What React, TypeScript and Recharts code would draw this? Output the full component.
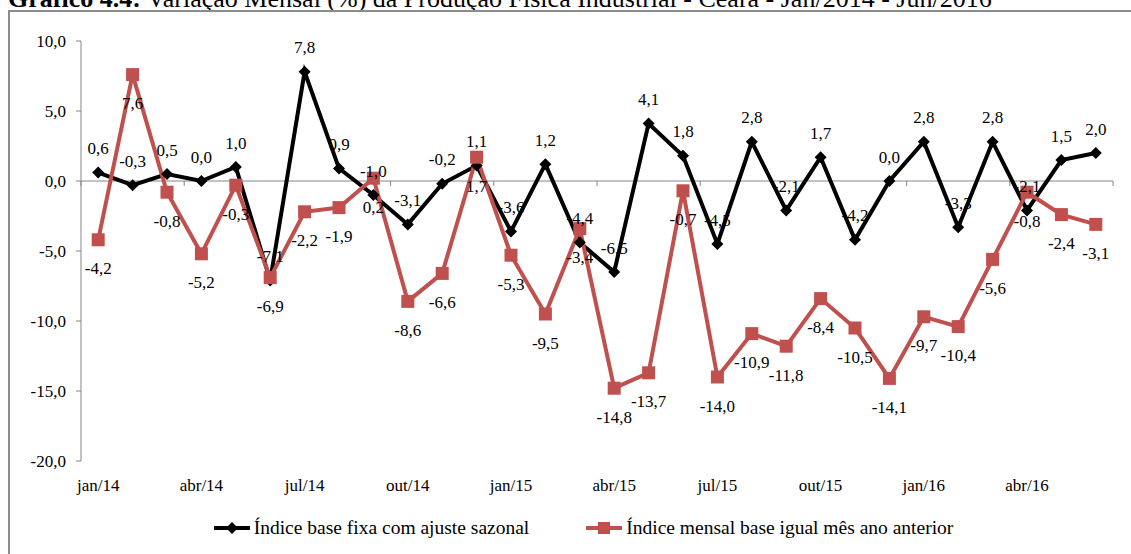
import React from "react";
import {
  LineChart,
  Line,
  XAxis,
  YAxis,
  ReferenceLine,
  Legend,
  LabelList,
} from "recharts";

const meses = [
  "jan/14", "fev/14", "mar/14", "abr/14", "mai/14", "jun/14",
  "jul/14", "ago/14", "set/14", "out/14", "nov/14", "dez/14",
  "jan/15", "fev/15", "mar/15", "abr/15", "mai/15", "jun/15",
  "jul/15", "ago/15", "set/15", "out/15", "nov/15", "dez/15",
  "jan/16", "fev/16", "mar/16", "abr/16", "mai/16", "jun/16",
];

// Índice base fixa com ajuste sazonal (%)
const ajusteSazonal = [
  0.6, -0.3, 0.5, 0.0, 1.0, -7.1, 7.8, 0.9, -1.0, -3.1, -0.2, 1.1,
  -3.6, 1.2, -4.4, -6.5, 4.1, 1.8, -4.5, 2.8, -2.1, 1.7, -4.2, 0.0,
  2.8, -3.3, 2.8, -2.1, 1.5, 2.0,
];

// Índice mensal base igual mês ano anterior (%)
const mesAnoAnterior = [
  -4.2, 7.6, -0.8, -5.2, -0.3, -6.9, -2.2, -1.9, 0.2, -8.6, -6.6, 1.7,
  -5.3, -9.5, -3.4, -14.8, -13.7, -0.7, -14.0, -10.9, -11.8, -8.4, -10.5, -14.1,
  -9.7, -10.4, -5.6, -0.8, -2.4, -3.1,
];

const yTicks = [-20, -15, -10, -5, 0, 5, 10];

const serieFixa = "Índice base fixa com ajuste sazonal";
const serieMensal = "Índice mensal base igual mês ano anterior";

const data = meses.map((mes, i) => ({
  mes,
  fixa: ajusteSazonal[i],
  mensal: mesAnoAnterior[i],
}));

const FONT = "'Liberation Serif', 'Times New Roman', serif";
const AXIS = "#868686";
const RED = "#C0504D";

const fmt = (v: number) => v.toFixed(1).replace(".", ",");

const makeLabel =
  (dy: number) =>
  ({ x, y, value }: any) => (
    <text
      x={x}
      y={y + dy}
      textAnchor="middle"
      dominantBaseline="central"
      fontFamily={FONT}
      fontSize={17}
      fill="#000"
    >
      {fmt(Number(value))}
    </text>
  );

// zero line with small tick marks every three months
const ZeroAxis = (props: any) => {
  const { x1, x2, y1 } = props;
  const groups = meses.length / 3;
  const step = (x2 - x1) / groups;
  const marks = [];
  for (let k = 0; k <= groups; k++) {
    const x = x1 + k * step;
    marks.push(<line key={k} x1={x} x2={x} y1={y1} y2={y1 + 5} stroke={AXIS} />);
  }
  return (
    <g>
      <line x1={x1} x2={x2} y1={y1} y2={y1} stroke={AXIS} strokeWidth={1} />
      {marks}
    </g>
  );
};

const Diamond = ({ cx, cy }: any) =>
  cx == null ? null : (
    <path
      d={`M${cx},${cy - 6} L${cx + 6},${cy} L${cx},${cy + 6} L${cx - 6},${cy} Z`}
      fill="#000"
    />
  );

const Square = ({ cx, cy }: any) =>
  cx == null ? null : (
    <rect x={cx - 6.5} y={cy - 6.5} width={13} height={13} fill={RED} />
  );

const LegendBox = () => (
  <div
    style={{
      display: "flex",
      justifyContent: "center",
      alignItems: "center",
      height: 30,
      paddingLeft: 34,
      fontFamily: FONT,
      fontSize: 19.5,
      color: "#000",
    }}
  >
    <svg width={40} height={14}>
      <line x1={2} x2={38} y1={7} y2={7} stroke="#000" strokeWidth={4} />
      <path d="M20,1 L26,7 L20,13 L14,7 Z" fill="#000" />
    </svg>
    <span style={{ marginLeft: 2, marginRight: 55 }}>{serieFixa}</span>
    <svg width={40} height={14}>
      <line x1={2} x2={38} y1={7} y2={7} stroke={RED} strokeWidth={4} />
      <rect x={14} y={1} width={12} height={12} fill={RED} />
    </svg>
    <span style={{ marginLeft: 2 }}>{serieMensal}</span>
  </div>
);

export default function App() {
  return (
    <div
      style={{
        position: "absolute",
        left: 0,
        top: 0,
        width: 1131,
        height: 554,
        overflow: "hidden",
        background: "#fff",
      }}
    >
      <svg
        width={1131}
        height={20}
        style={{ position: "absolute", left: 0, top: 0 }}
      >
        <text x={8} y={7} fontFamily={FONT} fontSize={26} fill="#000">
          <tspan fontWeight="bold">Gráfico 4.4:</tspan>
          <tspan> Variação Mensal (%) da Produção Física Industrial - Ceará - Jan/2014 - Jun/2016</tspan>
        </text>
      </svg>
      <div
        style={{
          position: "absolute",
          left: 8,
          top: 10,
          width: 1140,
          height: 560,
          borderTop: "2.5px solid #8c8c8c",
          borderLeft: "2.5px solid #8c8c8c",
        }}
      />
      <div style={{ position: "absolute", left: 0, top: 0 }}>
        <LineChart
          width={1131}
          height={554}
          data={data}
          margin={{ top: 41, right: 18, left: 10, bottom: 33 }}
        >
          <XAxis
            dataKey="mes"
            scale="band"
            interval={2}
            axisLine={false}
            tickLine={false}
            height={30}
            tickMargin={12}
            tick={{ fontFamily: FONT, fontSize: 17, fill: "#000" }}
          />
          <YAxis
            width={71}
            domain={[-20, 10]}
            ticks={yTicks}
            interval={0}
            tickFormatter={fmt}
            axisLine={{ stroke: AXIS }}
            tickLine={{ stroke: AXIS }}
            tickSize={5}
            tickMargin={10}
            tick={{ fontFamily: FONT, fontSize: 17, fill: "#000" }}
          />
          <ReferenceLine y={0} shape={ZeroAxis} />
          <Legend
            verticalAlign="bottom"
            height={30}
            content={LegendBox}
            wrapperStyle={{ top: 513, left: 0, width: 1131 }}
          />
          <Line
            name={serieFixa}
            dataKey="fixa"
            stroke="#000"
            strokeWidth={4}
            dot={Diamond}
            activeDot={false}
            isAnimationActive={false}
          >
            <LabelList dataKey="fixa" content={makeLabel(-24)} />
          </Line>
          <Line
            name={serieMensal}
            dataKey="mensal"
            stroke={RED}
            strokeWidth={4}
            dot={Square}
            activeDot={false}
            isAnimationActive={false}
          >
            <LabelList dataKey="mensal" content={makeLabel(29)} />
          </Line>
        </LineChart>
      </div>
    </div>
  );
}
